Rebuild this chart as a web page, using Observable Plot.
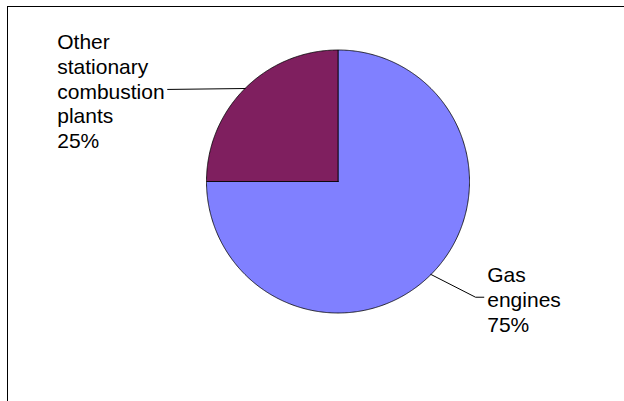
<!DOCTYPE html>
<html>
<head>
<meta charset="utf-8">
<script src="https://cdn.jsdelivr.net/npm/d3@7"></script>
<script src="https://cdn.jsdelivr.net/npm/@observablehq/plot@0.6"></script>
<style>
  html, body { margin: 0; padding: 0; background: #fff; }
  #wrap { position: relative; width: 624px; height: 401px; overflow: hidden; }
  #frame { position: absolute; left: 7px; top: 6px; right: -10px; bottom: -10px;
           border-top: 1.5px solid #000; border-left: 1.5px solid #000; }
  #chart { position: absolute; left: 0; top: 0; }
</style>
</head>
<body>
<div id="wrap"><div id="frame"></div><div id="chart"></div></div>
<script>
// ---- data ----
const categories = ["Gas engines", "Other stationary combustion plants"];
const shares = [75, 25];
const labelLines = [["Gas", "engines"], ["Other", "stationary", "combustion", "plants"]];
const colors = ["#8080ff", "#7f1f5f"];

// ---- layout (pie units, radius = 1) ----
const labelX = [1.135, -2.135];
const labelY = [-0.897, 0.692];
const leaderElbow = [[1.046, -0.880], [-1.297, 0.700]];
const leaderEnd = [[1.109, -0.880], [-1.297, 0.700]];

// pie angles: start at 12 o'clock, clockwise
const pie = d3.pie().sort(null).value(d => d.value).startAngle(0).endAngle(2 * Math.PI);
const rows = categories.map((c, i) => ({category: c, value: shares[i], color: colors[i], i}));
const arcs = pie(rows);

const slicePts = [];
arcs.forEach(a => {
  const n = Math.max(2, Math.ceil((a.endAngle - a.startAngle) / (Math.PI / 360)));
  slicePts.push({x: 0, y: 0, k: a.data.category});
  for (let j = 0; j <= n; j++) {
    const t = a.startAngle + (a.endAngle - a.startAngle) * j / n;
    slicePts.push({x: Math.sin(t), y: Math.cos(t), k: a.data.category});
  }
  slicePts.push({x: 0, y: 0, k: a.data.category});
});

const leaders = [];
arcs.forEach((a, i) => {
  const m = (a.startAngle + a.endAngle) / 2;
  leaders.push({x: Math.sin(m), y: Math.cos(m), k: i});
  leaders.push({x: leaderElbow[i][0], y: leaderElbow[i][1], k: i});
  leaders.push({x: leaderEnd[i][0], y: leaderEnd[i][1], k: i});
});

const labels = arcs.map((a, i) => ({
  x: labelX[i], y: labelY[i],
  text: labelLines[i].join("\n") + "\n" + Math.round(a.data.value / d3.sum(shares) * 100) + "%"
}));

const cx = 337.5, cy = 181, r = 131.5;
const chart = Plot.plot({
  width: 624, height: 401,
  margin: 0,
  style: {fontFamily: "'Liberation Sans', Arial, sans-serif", background: "transparent"},
  x: {domain: [-1, 1], range: [cx - r, cx + r], axis: null},
  y: {domain: [-1, 1], range: [cy + r, cy - r], axis: null},
  color: {domain: categories, range: colors},
  marks: [
    Plot.line(slicePts, {x: "x", y: "y", z: "k", fill: "k", stroke: "#000", strokeWidth: 0.8, curve: "linear"}),
    Plot.line(leaders, {x: "x", y: "y", z: "k", stroke: "#000", strokeWidth: 1}),
    Plot.text(labels, {x: "x", y: "y", text: "text", textAnchor: "start", lineAnchor: "middle",
      lineHeight: 1.19, fontSize: 21, fill: "#000"})
  ]
});
document.getElementById("chart").appendChild(chart);
</script>
</body>
</html>
